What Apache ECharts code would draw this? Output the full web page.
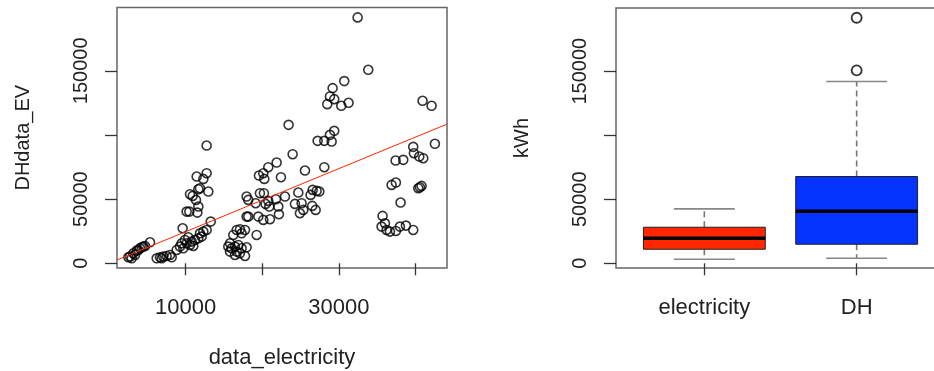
<!DOCTYPE html>
<html>
<head>
<meta charset="utf-8">
<script src="https://cdn.jsdelivr.net/npm/echarts@6/dist/echarts.min.js"></script>
<style>
  html, body { margin: 0; padding: 0; background: #fff; }
  #chart { width: 934px; height: 371px; }
</style>
</head>
<body>
<div id="chart"></div>
<script>
// scatter: electricity vs DH
const data_electricity = [
  32440, 33830, 30700, 29180, 28830, 29390, 28480, 30310, 31260, 40920,
  42100, 23430, 12730, 29390, 28830, 27220, 28090, 29050, 39700, 39790,
  42530, 41010, 40490, 37400, 38400, 23960, 21870, 20780, 19560, 20130,
  20260, 22430, 25570, 28090, 11430, 12730, 12300, 10560, 10910, 11650,
  11860, 12950, 11340, 11650, 10120, 10470, 11520, 37440, 36880, 38050,
  40360, 40790, 40570, 24700, 26570, 27090, 27440, 26300, 22960, 21780,
  20780, 20210, 19690, 17950, 18170, 19130, 20430, 20910, 22090, 24260,
  25130, 25350, 24910, 26520, 26960, 22170, 21000, 20130, 19480, 18170,
  17950, 13260, 9600, 19260, 35700, 36010, 35570, 36220, 36660, 37440,
  37960, 38750, 39700, 5340, 4470, 4030, 3600, 3160, 2730, 2950,
  3380, 3820, 4250, 2510, 4690, 6210, 6640, 7080, 7510, 7950,
  6860, 8170, 8820, 9250, 9470, 9900, 10340, 10780, 10560, 11210,
  11650, 12080, 12300, 12730, 11860, 10120, 10990, 9690, 15780, 16210,
  16650, 17080, 17740, 17300, 16000, 16430, 16870, 17300, 17950, 15780,
  16650, 16430, 17740, 17080, 15560
]
const DHdata_EV = [
  191600, 150770, 141930, 136470, 129970, 127890, 123990, 122690, 125030, 126590,
  122690, 107870, 91750, 103190, 100070, 95390, 95390, 94870, 90710, 85770,
  93090, 81870, 83170, 80050, 80570, 84990, 78490, 74850, 68350, 70170,
  65750, 67050, 72250, 74850, 67570, 70170, 65750, 53790, 52490, 57690,
  58470, 55870, 49370, 44170, 40270, 40270, 39490, 62890, 61070, 47290,
  58470, 60290, 59250, 55090, 57170, 56390, 55870, 53270, 51970, 49890,
  48590, 54570, 54570, 51970, 49370, 46770, 46250, 44170, 44170, 46250,
  46770, 41570, 38970, 44690, 41570, 38190, 34290, 33770, 36370, 36370,
  36370, 32470, 27270, 22070, 36890, 31170, 28570, 25970, 24670, 25190,
  28570, 29350, 25970, 16350, 12970, 11670, 9850, 7770, 5170, 3870,
  6470, 10370, 12450, 4650, 13490, 3870, 4650, 5170, 5690, 6470,
  3870, 4650, 10370, 12970, 15570, 18170, 20250, 16870, 14270, 18170,
  19470, 20770, 24670, 25970, 23370, 15570, 13490, 11670, 15570, 22070,
  25970, 26490, 25970, 23370, 11670, 12970, 14270, 11670, 12450, 9070,
  9070, 6470, 5690, 7770, 12970
]

// fitted line (abline), ends at the plot edges
const fitX = [1030, 44110]
const fitY = [2570, 108420]

// boxplot: [low whisker, Q1, median, Q3, high whisker]
const boxCategories = ['electricity', 'DH']
const boxStats = [
  [3130, 10940, 19530, 28130, 42500],
  [3900, 14840, 40630, 67740, 141950]
]
const boxColors = ['#ff2600', '#0433ff']
const dhOutliers = [150550, 191700]

const xTicks = [10000, 20000, 30000, 40000]
const xTickLabels = [10000, 30000]
const yTicks = [0, 50000, 100000, 150000]
const yTickLabels = [0, 50000, 150000]

const FONT = 'Liberation Sans'
const TEXT = '#222'

const chart = echarts.init(document.getElementById('chart'))

const tickStyle = { show: true, inside: false, length: 12, lineStyle: { color: '#333', width: 1.3 } }
const plain = (v) => String(v)

function yAxisCfg(gridIndex, name) {
  return {
    type: 'value', gridIndex,
    min: -3700, max: 199300,
    name, nameLocation: 'middle', nameRotate: 90, nameGap: 84,
    nameTextStyle: { fontFamily: FONT, fontSize: 20, color: TEXT },
    axisLine: { show: false },
    axisTick: Object.assign({ customValues: yTicks }, tickStyle),
    axisLabel: {
      customValues: yTickLabels, rotate: 90, margin: 26, formatter: plain,
      fontFamily: FONT, fontSize: 20, color: TEXT
    },
    splitLine: { show: false }
  }
}

const boxData = boxStats.map((s, i) => [i + 1].concat(s))

function renderBox(params, api) {
  const x = api.value(0)
  const low = api.coord([x, api.value(1)])
  const q1 = api.coord([x, api.value(2)])
  const med = api.coord([x, api.value(3)])
  const q3 = api.coord([x, api.value(4)])
  const high = api.coord([x, api.value(5)])
  const w = api.size([0.8, 0])[0]
  const cx = low[0]
  const whisk = { stroke: '#777', lineWidth: 1.6, lineDash: [6, 4] }
  const cap = { stroke: '#888', lineWidth: 1.6 }
  return {
    type: 'group',
    children: [
      { type: 'line', shape: { x1: cx, y1: q3[1], x2: cx, y2: high[1] }, style: whisk },
      { type: 'line', shape: { x1: cx, y1: q1[1], x2: cx, y2: low[1] }, style: whisk },
      { type: 'line', shape: { x1: cx - w / 4, y1: high[1], x2: cx + w / 4, y2: high[1] }, style: cap },
      { type: 'line', shape: { x1: cx - w / 4, y1: low[1], x2: cx + w / 4, y2: low[1] }, style: cap },
      {
        type: 'rect',
        shape: { x: cx - w / 2, y: q3[1], width: w, height: q1[1] - q3[1] },
        style: { fill: boxColors[params.dataIndex], stroke: '#222', lineWidth: 1 }
      },
      { type: 'line', shape: { x1: cx - w / 2, y1: med[1], x2: cx + w / 2, y2: med[1] }, style: { stroke: '#000', lineWidth: 3.5 } }
    ]
  }
}

const option = {
  animation: false,
  backgroundColor: '#fff',
  grid: [
    { left: 117, top: 7.5, width: 330, height: 260.5, outerBoundsMode: 'none', show: true, borderColor: '#666', borderWidth: 1.5 },
    { left: 616, top: 8, width: 329, height: 260, outerBoundsMode: 'none', show: true, borderColor: '#666', borderWidth: 1.5 }
  ],
  xAxis: [
    {
      type: 'value', gridIndex: 0,
      min: 1030, max: 44110,
      name: 'data_electricity', nameLocation: 'middle', nameGap: 79,
      nameTextStyle: { fontFamily: FONT, fontSize: 22, color: TEXT },
      axisLine: { show: false },
      axisTick: Object.assign({ customValues: xTicks }, tickStyle),
      axisLabel: { customValues: xTickLabels, margin: 29, formatter: plain, fontFamily: FONT, fontSize: 22, color: TEXT },
      splitLine: { show: false }
    },
    {
      type: 'value', gridIndex: 1,
      min: 0.42, max: 2.58,
      axisLine: { show: false },
      axisTick: Object.assign({ customValues: [1, 2] }, tickStyle),
      axisLabel: {
        customValues: [1, 2], margin: 29,
        fontFamily: FONT, fontSize: 22, color: TEXT,
        formatter: (v) => boxCategories[Math.round(v) - 1]
      },
      splitLine: { show: false }
    }
  ],
  yAxis: [yAxisCfg(0, 'DHdata_EV'), yAxisCfg(1, 'kWh')],
  series: [
    {
      type: 'scatter', xAxisIndex: 0, yAxisIndex: 0,
      data: data_electricity.map((x, i) => [x, DHdata_EV[i]]),
      symbol: 'circle', symbolSize: 9,
      itemStyle: { color: 'rgba(0,0,0,0)', borderColor: '#000', borderWidth: 1.6 }
    },
    {
      type: 'line', xAxisIndex: 0, yAxisIndex: 0,
      data: fitX.map((x, i) => [x, fitY[i]]),
      showSymbol: false,
      lineStyle: { color: '#ff2600', width: 1 }
    },
    {
      type: 'custom', xAxisIndex: 1, yAxisIndex: 1,
      data: boxData,
      renderItem: renderBox,
      encode: { x: 0, y: [1, 2, 3, 4, 5] }
    },
    {
      type: 'scatter', xAxisIndex: 1, yAxisIndex: 1,
      data: dhOutliers.map((v) => [2, v]),
      symbol: 'circle', symbolSize: 10,
      itemStyle: { color: 'rgba(0,0,0,0)', borderColor: '#000', borderWidth: 1.8 }
    }
  ]
}

chart.setOption(option)
</script>
</body>
</html>
